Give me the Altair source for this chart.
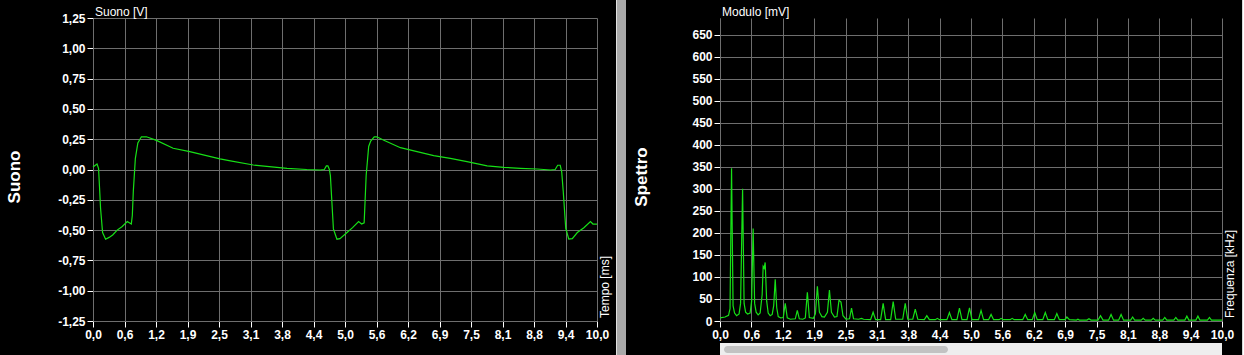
import altair as alt
import pandas as pd

# ---------------- data ----------------
time_ms = [0.00, 0.08, 0.11, 0.13, 0.15, 0.19, 0.25, 0.32, 0.39, 0.48, 0.58, 0.68, 0.72, 0.76,
           0.78, 0.80, 0.84, 0.89, 0.96, 1.06, 1.26, 1.59, 1.92, 2.25, 2.52, 2.70, 3.18, 3.85,
           4.24, 4.51, 4.59, 4.63, 4.66, 4.69, 4.71, 4.74, 4.77, 4.84, 4.90, 5.04, 5.15, 5.27,
           5.33, 5.38, 5.42, 5.47, 5.51, 5.58, 5.63, 5.76, 6.10, 6.43, 6.76, 7.09, 7.42, 7.68,
           7.82, 8.15, 8.48, 8.81, 9.08, 9.17, 9.22, 9.27, 9.30, 9.33, 9.38, 9.44, 9.51, 9.61,
           9.74, 9.87, 9.92, 10.00]
suono_v = [0.02, 0.045, 0.01, -0.15, -0.32, -0.52, -0.575, -0.56, -0.54, -0.50, -0.47, -0.43, -0.44, -0.45,
           -0.38, -0.18, 0.09, 0.22, 0.27, 0.27, 0.24, 0.175, 0.147, 0.114, 0.087, 0.073, 0.037, 0.01,
           0.0, -0.004, 0.0, 0.03, 0.03, 0.0, -0.05, -0.27, -0.49, -0.575, -0.57, -0.52, -0.48, -0.43,
           -0.45, -0.44, -0.05, 0.19, 0.235, 0.27, 0.27, 0.243, 0.18, 0.147, 0.114, 0.092, 0.065, 0.043,
           0.03, 0.018, 0.01, 0.004, -0.004, 0.0, 0.035, 0.035, -0.02, -0.18, -0.485, -0.575, -0.57, -0.52,
           -0.48, -0.43, -0.45, -0.45]

freq_khz = [0.00, 0.10, 0.17, 0.20, 0.23, 0.26, 0.29, 0.33, 0.38, 0.41, 0.45, 0.48, 0.51, 0.55,
            0.60, 0.63, 0.66, 0.69, 0.72, 0.76, 0.80, 0.84, 0.86, 0.88, 0.90, 0.93, 0.96, 1.00,
            1.04, 1.07, 1.10, 1.13, 1.16, 1.21, 1.26, 1.30, 1.34, 1.40, 1.50, 1.54, 1.58, 1.65,
            1.70, 1.74, 1.78, 1.86, 1.90, 1.94, 1.98, 2.03, 2.08, 2.14, 2.18, 2.22, 2.28, 2.33,
            2.37, 2.41, 2.45, 2.51, 2.58, 2.62, 2.66, 2.76, 2.82, 2.86, 3.00, 3.05, 3.10, 3.20,
            3.25, 3.30, 3.40, 3.45, 3.50, 3.64, 3.69, 3.74, 3.84, 3.89, 3.94, 4.07, 4.12, 4.17,
            4.29, 4.33, 4.37, 4.52, 4.57, 4.62, 4.72, 4.77, 4.82, 4.92, 4.97, 5.02, 5.15, 5.20,
            5.25, 5.35, 5.40, 5.45, 5.56, 5.60, 5.64, 5.78, 5.82, 5.86, 6.03, 6.08, 6.13, 6.22,
            6.27, 6.32, 6.43, 6.48, 6.53, 6.66, 6.71, 6.76, 6.87, 6.91, 6.96, 7.10, 7.13, 7.16,
            7.31, 7.35, 7.39, 7.53, 7.58, 7.63, 7.74, 7.79, 7.84, 7.94, 7.99, 8.04, 8.18, 8.22,
            8.26, 8.39, 8.43, 8.47, 8.59, 8.63, 8.67, 8.82, 8.86, 8.90, 9.04, 9.08, 9.12, 9.26,
            9.30, 9.34, 9.48, 9.52, 9.56, 9.71, 9.75, 9.79, 10.00]
modulo_mv = [7, 9, 13, 28, 347, 35, 18, 12, 16, 40, 300, 40, 20, 16,
             18, 45, 210, 40, 20, 14, 18, 60, 124, 120, 133, 45, 18, 12,
             15, 35, 95, 30, 10, 7, 8, 40, 7, 4, 5, 24, 5, 4,
             7, 65, 8, 6, 16, 79, 20, 10, 9, 20, 70, 20, 9, 10,
             47, 43, 12, 4, 5, 29, 5, 4, 6, 4, 3, 20, 3, 3,
             40, 3, 3, 44, 4, 4, 40, 4, 4, 27, 4, 3, 12, 3,
             3, 6, 3, 3, 19, 3, 3, 29, 3, 3, 30, 3, 3, 24,
             3, 3, 15, 3, 3, 6, 3, 3, 6, 3, 3, 15, 3, 3,
             19, 3, 3, 19, 3, 3, 17, 3, 3, 9, 3, 2, 4, 2,
             2, 5, 2, 2, 12, 2, 2, 15, 2, 2, 15, 2, 2, 9,
             2, 2, 6, 2, 2, 6, 2, 2, 8, 2, 2, 8, 2, 2,
             11, 2, 2, 11, 2, 2, 8, 2, 2]

x_ticks = [0.0, 0.625, 1.25, 1.875, 2.5, 3.125, 3.75, 4.375, 5.0, 5.625, 6.25, 6.875,
           7.5, 8.125, 8.75, 9.375, 10.0]
x_labels = ["0,0", "0,6", "1,2", "1,9", "2,5", "3,1", "3,8", "4,4", "5,0", "5,6", "6,2",
            "6,9", "7,5", "8,1", "8,8", "9,4", "10,0"]
y1_ticks = [-1.25, -1.0, -0.75, -0.5, -0.25, 0.0, 0.25, 0.5, 0.75, 1.0, 1.25]
y1_labels = ["-1,25", "-1,00", "-0,75", "-0,50", "-0,25", "0,00", "0,25", "0,50", "0,75",
             "1,00", "1,25"]
y2_ticks = [0, 50, 100, 150, 200, 250, 300, 350, 400, 450, 500, 550, 600, 650]

# ---------------- style ----------------
FONT = "Liberation Sans"
GREEN = "#17e017"
W1, W2, H = 504, 502, 303


def lab_expr(labels, first, step):
    arr = "[" + ",".join("'%s'" % l for l in labels) + "]"
    return "%s[round((datum.value - (%s)) / %s)]" % (arr, first, step)


wave_df = pd.DataFrame({"t": time_ms, "v": suono_v})
spec_df = pd.DataFrame({"f": freq_khz, "m": modulo_mv})
one = pd.DataFrame({"k": [0]})

x_axis = alt.Axis(values=x_ticks, labelExpr=lab_expr(x_labels, 0, 0.625), title=None,
                  labelFlush=False, labelOverlap=False)


def deco_rect(x1, x2, y1, y2, color, radius=0):
    return alt.Chart(one).mark_rect(color=color, cornerRadius=radius).encode(
        x=alt.value(x1), x2=alt.value(x2), y=alt.value(y1), y2=alt.value(y2))


def deco_text(txt, x, y, size, weight, angle=0, align="left"):
    return alt.Chart(one).mark_text(text=txt, color="white", font=FONT, fontSize=size,
                                    fontWeight=weight, angle=angle, align=align,
                                    baseline="middle").encode(x=alt.value(x), y=alt.value(y))


# ---------- left panel ----------
wave = alt.Chart(wave_df).mark_line(color=GREEN, strokeWidth=1.2).encode(
    x=alt.X("t:Q", scale=alt.Scale(domain=[0, 10], nice=False, zero=False), axis=x_axis),
    y=alt.Y("v:Q", scale=alt.Scale(domain=[-1.25, 1.25], nice=False, zero=False),
            axis=alt.Axis(values=y1_ticks, labelExpr=lab_expr(y1_labels, -1.25, 0.25), title=None)),
)

left = alt.layer(
    deco_rect(-93, -92, 0, 1, "#000000"),
    deco_rect(523, 524, -18, 337, "#e0e0e0"),
    deco_rect(524, 533, -18, 337, "#a9a9a9"),
    wave,
    deco_text("Suono [V]", 2, -6, 12, "normal"),
    deco_text("Tempo [ms]", 511.5, 300, 12, "normal", angle=270),
    deco_text("Suono", -78.5, 159, 17, "bold", angle=270, align="center"),
).properties(width=W1, height=H)

# ---------- right panel ----------
spec = alt.Chart(spec_df).mark_line(color=GREEN, strokeWidth=1.2).encode(
    x=alt.X("f:Q", scale=alt.Scale(domain=[0, 10], nice=False, zero=False), axis=x_axis),
    y=alt.Y("m:Q", scale=alt.Scale(domain=[0, 688], nice=False, zero=False),
            axis=alt.Axis(values=y2_ticks, format="d", title=None)),
)

right = alt.layer(
    deco_rect(-94, -93, 0, 1, "#000000"),
    deco_rect(0, W2, 325, 337, "#eeeeee"),
    deco_rect(4, 228, 328, 335, "#c2c2c2", radius=3.5),
    deco_rect(522, 523, -18, 337, "#d8d8d8"),
    spec,
    deco_text("Modulo [mV]", 2, -6, 12, "normal"),
    deco_text("Frequenza [kHz]", 510, 300, 12, "normal", angle=270),
    deco_text("Spettro", -78, 159, 17, "bold", angle=270, align="center"),
).properties(width=W2, height=H)

chart = alt.hconcat(left, right, spacing=0).properties(
    padding={"left": 0, "top": 0, "right": 0, "bottom": 0}
).configure(background="black").configure_view(stroke=None).configure_axis(
    labelFont=FONT, labelFontSize=12, labelFontWeight="bold", labelColor="white",
    tickColor="white", tickSize=6, tickWidth=1, labelPadding=2,
    domainColor="#6e6e6e", gridColor="#6e6e6e", gridOpacity=1, grid=True,
)

chart.save("out.html", embed_options={"renderer": "svg", "actions": False})
